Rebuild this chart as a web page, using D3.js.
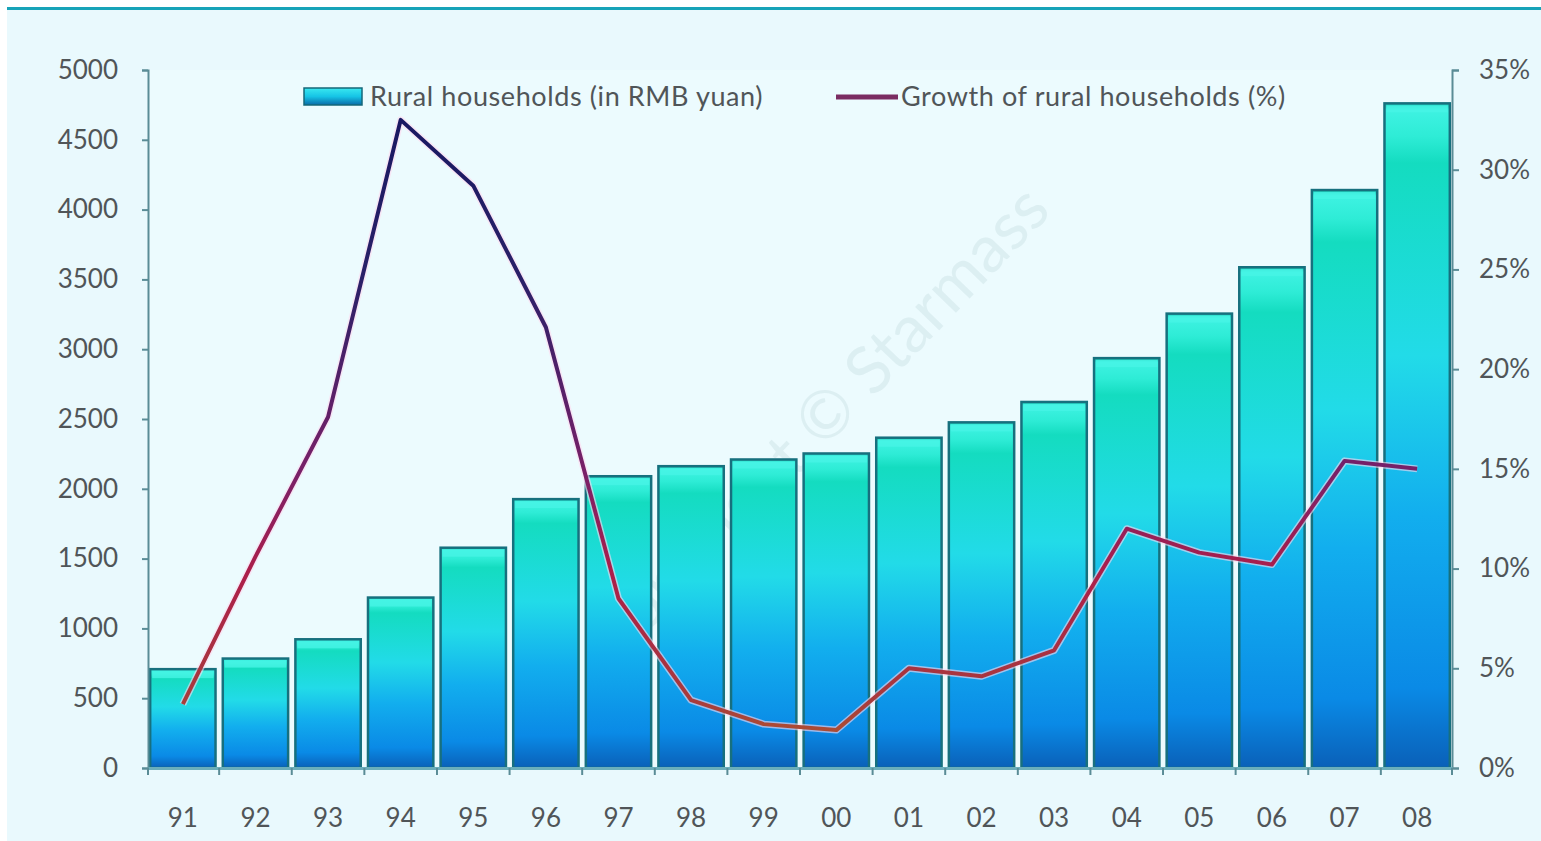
<!DOCTYPE html>
<html>
<head>
<meta charset="utf-8">
<script src="https://cdn.jsdelivr.net/npm/d3@7"></script>
<style>
	html, body { margin: 0; padding: 0; background: #ffffff; }
	svg { display: block; }
	.tick text { font-family: Lato, "Open Sans", sans-serif; fill: #505558; }
	.legend text { font-family: Lato, "Open Sans", sans-serif; fill: #505558; }
</style>
</head>
<body>
<script>
var years = ["91", "92", "93", "94", "95", "96", "97", "98", "99", "00", "01", "02", "03", "04", "05", "06", "07", "08"];
var income = [708, 784, 922, 1221, 1578, 1926, 2090, 2162, 2210, 2253, 2366, 2476, 2622, 2936, 3255, 3587, 4140, 4761];
var growth = [3.2, 10.6, 17.6, 32.5, 29.2, 22.1, 8.5, 3.4, 2.2, 1.9, 5.0, 4.6, 5.9, 12.0, 10.8, 10.2, 15.4, 15.0];
var leftTicks = [0, 500, 1000, 1500, 2000, 2500, 3000, 3500, 4000, 4500, 5000];
var rightTicks = [0, 5, 10, 15, 20, 25, 30, 35];

var W = 1541, H = 841;
var margin = {top: 70, right: 89, bottom: 73, left: 148},
	width = W - margin.left - margin.right,
	height = H - margin.top - margin.bottom;

var x = d3.scaleBand().domain(years).range([0, width]).paddingInner(0.1).paddingOuter(0.03);
var y1 = d3.scaleLinear().domain([0, 5000]).range([height, 0]);
var y2 = d3.scaleLinear().domain([0, 35]).range([height, 0]);

var root = d3.select("body").append("svg")
	.attr("width", W)
	.attr("height", H);

var defs = root.append("defs");

// page background panel + top rule
root.append("rect")
	.attr("x", 7).attr("y", 9)
	.attr("width", W - 7).attr("height", H - 9)
	.attr("fill", "#e9f9fd");
root.append("rect")
	.attr("x", 7).attr("y", 7)
	.attr("width", W - 7).attr("height", 3)
	.attr("fill", "#17a3b8");

// bar gradient
var barGrad = defs.append("linearGradient")
	.attr("id", "bar-gradient")
	.attr("x1", "0%").attr("y1", "0%")
	.attr("x2", "0%").attr("y2", "100%");
[["0%", "#18c8b4"], ["1%", "#3ef2e2"], ["5%", "#2eecd6"], ["9%", "#14dcc0"], ["38%", "#22dbe8"],
 ["62%", "#12aeee"], ["88%", "#0a8ae6"], ["100%", "#0a60b8"]].forEach(function (s) {
	barGrad.append("stop").attr("offset", s[0]).attr("stop-color", s[1]);
});

var legBarGrad = defs.append("linearGradient")
	.attr("id", "leg-bar-gradient")
	.attr("x1", "0%").attr("y1", "0%")
	.attr("x2", "0%").attr("y2", "100%");
[["0%", "#3ae8f0"], ["50%", "#16c4e6"], ["100%", "#0a6aa8"]].forEach(function (s) {
	legBarGrad.append("stop").attr("offset", s[0]).attr("stop-color", s[1]);
});

// line gradient follows the height of the curve
var lineGrad = defs.append("linearGradient")
	.attr("id", "line-gradient")
	.attr("gradientUnits", "userSpaceOnUse")
	.attr("x1", 0).attr("y1", y2(0))
	.attr("x2", 0).attr("y2", y2(35));
[["0%", "#b0602a"], ["10%", "#a83a3c"], ["28%", "#ac1e4a"], ["42%", "#7a2068"], ["70%", "#2a2068"], ["100%", "#141660"]].forEach(function (s) {
	lineGrad.append("stop").attr("offset", s[0]).attr("stop-color", s[1]);
});

var svg = root.append("g")
	.attr("transform", "translate(" + margin.left + "," + margin.top + ")");

// plot area tint
svg.append("rect")
	.attr("x", 0).attr("y", 0)
	.attr("width", width).attr("height", height)
	.attr("fill", "#ecfbfe");

// watermark
svg.append("text")
	.attr("transform", "translate(" + (833 - margin.left) + "," + (440 - margin.top) + ") rotate(-46)")
	.attr("text-anchor", "middle")
	.attr("font-family", "Lato, sans-serif")
	.attr("font-size", 66)
	.attr("fill", "#c9dfe4")
	.attr("fill-opacity", 0.45)
	.text("Copyright © Starmass");

// bars
var bars = svg.selectAll("g.bar")
	.data(income)
	.enter().append("g")
	.attr("class", "bar");

bars.append("rect")
	.attr("x", function (d, i) { return x(years[i]); })
	.attr("y", function (d) { return y1(d); })
	.attr("width", x.bandwidth())
	.attr("height", function (d) { return height - y1(d); })
	.attr("fill", "url(#bar-gradient)")
	.attr("stroke", "#17707e")
	.attr("stroke-width", 2.5);

bars.append("rect")
	.attr("x", function (d, i) { return x(years[i]) + 2; })
	.attr("y", function (d) { return y1(d) + 2; })
	.attr("width", x.bandwidth() - 4)
	.attr("height", 7)
	.attr("fill", "#48f4e6")
	.attr("fill-opacity", 0.75);

// axes
var axisColor = "#5a8c96";

var gLeft = svg.append("g")
	.call(d3.axisLeft(y1).tickValues(leftTicks).tickSize(6).tickPadding(24)
		.tickFormat(d3.format("d")));
var gRight = svg.append("g")
	.attr("transform", "translate(" + width + ",0)")
	.call(d3.axisRight(y2).tickValues(rightTicks).tickSize(7).tickPadding(20)
		.tickFormat(function (d) { return d + "%"; }));
var gBottom = svg.append("g")
	.attr("transform", "translate(0," + height + ")")
	.call(d3.axisBottom(x).tickSize(0).tickPadding(41));

[gLeft, gRight, gBottom].forEach(function (g) {
	g.select(".domain").attr("stroke", axisColor).attr("stroke-width", 2);
	g.selectAll(".tick line").attr("stroke", axisColor).attr("stroke-width", 2);
	g.selectAll(".tick text").attr("font-size", 26);
});
gBottom.select(".domain").attr("stroke", "#6aaebb").attr("stroke-width", 3);

// category boundary ticks on the x axis
var step = x.step();
var bounds = years.map(function (d) { return x(d) - x.paddingInner() * step / 2; }).concat([width]);
bounds[0] = 0;
svg.append("g")
	.selectAll("line")
	.data(bounds)
	.enter().append("line")
	.attr("x1", function (d) { return d; })
	.attr("x2", function (d) { return d; })
	.attr("y1", height)
	.attr("y2", height + 7)
	.attr("stroke", axisColor)
	.attr("stroke-width", 2);

// growth line
var valueLine = d3.line()
	.x(function (d, i) { return x(years[i]) + x.bandwidth() / 2; })
	.y(function (d) { return y2(d); });

svg.append("path")
	.datum(growth)
	.attr("d", valueLine)
	.attr("fill", "none")
	.attr("stroke", "#ffd8ee")
	.attr("stroke-opacity", 0.6)
	.attr("stroke-width", 7)
	.attr("stroke-linejoin", "round");

svg.append("path")
	.datum(growth)
	.attr("d", valueLine)
	.attr("fill", "none")
	.attr("stroke", "url(#line-gradient)")
	.attr("stroke-width", 4)
	.attr("stroke-linejoin", "round");

// legend
var legend = root.append("g").attr("class", "legend");
legend.append("rect")
	.attr("x", 304).attr("y", 88)
	.attr("width", 58).attr("height", 17)
	.attr("fill", "url(#leg-bar-gradient)")
	.attr("stroke", "#15687a")
	.attr("stroke-width", 1.5);
legend.append("text")
	.attr("x", 370).attr("y", 106)
	.attr("font-size", 27)
	.attr("letter-spacing", 0.6)
	.text("Rural households (in RMB yuan)");
legend.append("line")
	.attr("x1", 836).attr("x2", 898)
	.attr("y1", 97).attr("y2", 97)
	.attr("stroke", "#7a2c62")
	.attr("stroke-width", 5);
legend.append("text")
	.attr("x", 901).attr("y", 106)
	.attr("font-size", 27)
	.attr("letter-spacing", 0.6)
	.text("Growth of rural households (%)");
</script>
</body>
</html>
